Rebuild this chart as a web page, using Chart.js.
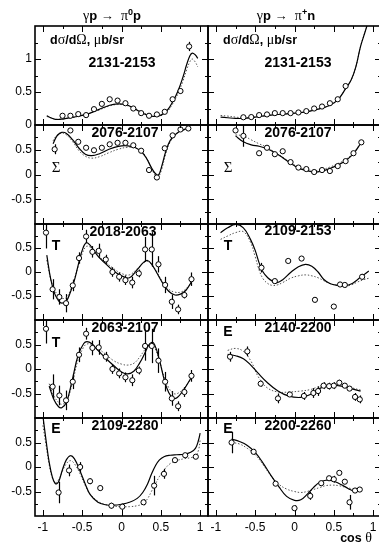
<!DOCTYPE html>
<html>
<head>
<meta charset="utf-8">
<script src="https://cdn.jsdelivr.net/npm/chart.js@4/dist/chart.umd.min.js"></script>
<style>
  html, body { margin: 0; padding: 0; background: #fff; overflow: hidden; width: 379px; height: 546px; }
  #stage { position: relative; width: 379px; height: 546px; overflow: hidden; }
  #stage canvas { position: absolute; left: 0; top: 0; }
  .lb { position: absolute; transform: translate(-50%, -50%); white-space: nowrap; line-height: 1;
        font-family: "Liberation Sans", Arial, Helvetica, sans-serif; color: #000; z-index: 5; }
  .lt { transform: translate(0, -50%); }
  .b { font-weight: bold; }
  .g { font-family: "Liberation Serif", "DejaVu Serif", "Times New Roman", serif; font-weight: normal; }
  .num { font-weight: bold; font-size: 14px; }
  .obs { font-weight: bold; font-size: 14px; }
  sup { font-size: 9px; vertical-align: 0; position: relative; top: -5px; }
</style>
</head>
<body>
<div id="stage"></div>
<script>
// ---- γp → π0p, dσ/dΩ (2131-2153) ----
const aPtX = [-0.75,-0.65,-0.55,-0.45,-0.35,-0.25,-0.15,-0.05,0.05,0.15,0.25,0.35,0.45,0.55,0.65,0.75,0.86];
const aPtY = [0.14,0.14,0.165,0.15,0.24,0.32,0.39,0.37,0.33,0.25,0.18,0.14,0.16,0.2,0.39,0.515,1.19];
const aPtE = [0.02,0.02,0.02,0.02,0.02,0.02,0.02,0.02,0.02,0.02,0.02,0.02,0.02,0.02,0.03,0.04,0.07];
const aFitX = [-0.95,-0.9,-0.84,-0.75,-0.6,-0.45,-0.3,-0.15,-0.05,0.05,0.15,0.25,0.35,0.42,0.5,0.58,0.65,0.72,0.78,0.83,0.87,0.9,0.94,0.97];
const aSolY = [0.14,0.11,0.085,0.09,0.12,0.16,0.23,0.3,0.32,0.31,0.26,0.19,0.14,0.13,0.15,0.22,0.35,0.52,0.72,0.92,1.05,1.09,1.06,1.01];
const aDotY = [0.13,0.11,0.09,0.09,0.12,0.16,0.22,0.29,0.31,0.3,0.26,0.2,0.15,0.13,0.14,0.2,0.32,0.48,0.66,0.84,0.96,1.0,0.95,0.88];

// ---- γp → π+n, dσ/dΩ (2131-2153) ----
const bPtX = [-0.65,-0.55,-0.45,-0.35,-0.25,-0.15,-0.05,0.05,0.15,0.25,0.35,0.45,0.55,0.65];
const bPtY = [0.117,0.12,0.15,0.16,0.18,0.18,0.18,0.19,0.21,0.25,0.28,0.33,0.39,0.59];
const bPtE = [0.015,0.015,0.015,0.015,0.015,0.015,0.015,0.015,0.015,0.015,0.015,0.015,0.015,0.02];
const bFitX = [-0.94,-0.85,-0.75,-0.65,-0.5,-0.3,-0.1,0.1,0.3,0.45,0.55,0.65,0.72,0.78,0.84,0.9,0.96];
const bSolY = [0.12,0.11,0.1,0.1,0.12,0.15,0.17,0.19,0.24,0.3,0.38,0.55,0.68,0.88,1.19,1.42,1.65];
const bDotY = [0.145,0.135,0.12,0.11,0.12,0.15,0.17,0.19,0.24,0.3,0.38,0.55,0.68,0.88,1.19,1.42,1.65];

// ---- π0p, Σ (2076-2107) ----
const cPtX = [-0.85,-0.65,-0.55,-0.45,-0.35,-0.25,-0.15,-0.05,0.05,0.15,0.25,0.35,0.45,0.55,0.65,0.75,0.85];
const cPtY = [0.51,0.89,0.66,0.54,0.49,0.54,0.61,0.64,0.64,0.59,0.48,0.09,-0.06,0.53,0.79,0.91,0.93];
const cPtE = [0.1,0.03,0.03,0.03,0.03,0.03,0.03,0.03,0.03,0.03,0.03,0.04,0.04,0.03,0.03,0.03,0.03];
const cFitX = [-0.87,-0.82,-0.76,-0.7,-0.62,-0.54,-0.46,-0.38,-0.28,-0.16,-0.04,0.08,0.18,0.26,0.32,0.38,0.43,0.47,0.51,0.56,0.62,0.7,0.78,0.85];
const cSolY = [0.62,0.78,0.85,0.83,0.7,0.53,0.41,0.38,0.42,0.51,0.57,0.58,0.54,0.45,0.32,0.14,0.02,-0.01,0.16,0.45,0.69,0.83,0.9,0.93];
const cDotY = [0.68,0.8,0.84,0.8,0.66,0.48,0.37,0.33,0.36,0.44,0.51,0.55,0.53,0.46,0.33,0.13,-0.02,-0.04,0.1,0.4,0.66,0.82,0.89,0.92];

// ---- π+n, Σ (2076-2107) ----
const dPtX = [-0.75,-0.65,-0.45,-0.35,-0.25,-0.15,-0.05,0.05,0.15,0.25,0.35,0.45,0.55,0.65,0.75,0.85];
const dPtY = [0.89,0.78,0.43,0.54,0.41,0.47,0.25,0.14,0.11,0.05,0.09,0.07,0.17,0.27,0.43,0.65];
const dPtE = [0.05,0.22,0.03,0.03,0.03,0.03,0.03,0.03,0.03,0.03,0.03,0.03,0.03,0.03,0.03,0.03];
const dFitX = [-0.75,-0.65,-0.55,-0.45,-0.35,-0.25,-0.15,-0.05,0.05,0.15,0.25,0.35,0.45,0.55,0.65,0.75,0.85];
const dSolY = [0.78,0.66,0.6,0.57,0.52,0.44,0.34,0.23,0.13,0.08,0.05,0.07,0.12,0.19,0.28,0.42,0.65];
const dDotY = [0.8,0.78,0.7,0.62,0.55,0.45,0.35,0.24,0.15,0.1,0.08,0.1,0.15,0.22,0.3,0.44,0.65];

// ---- π0p, T (2018-2063) ----
const ePtX = [-0.96,-0.876,-0.79,-0.705,-0.62,-0.54,-0.45,-0.37,-0.29,-0.2,-0.115,-0.03,0.05,0.137,0.22,0.3,0.385,0.47,0.555,0.64,0.72,0.8,0.89];
const ePtY = [0.82,-0.36,-0.52,-0.65,-0.28,0.29,0.74,0.42,0.44,0.26,0.0,-0.1,-0.17,-0.22,-0.03,0.47,0.47,0.16,-0.27,-0.62,-0.78,-0.48,-0.15];
const ePtE = [0.33,0.21,0.16,0.19,0.12,0.12,0.14,0.12,0.15,0.1,0.1,0.1,0.1,0.12,0.08,0.26,0.36,0.17,0.17,0.15,0.1,0.07,0.14];
const eFitX = [-0.95,-0.9,-0.85,-0.8,-0.76,-0.7,-0.65,-0.6,-0.55,-0.5,-0.45,-0.4,-0.3,-0.2,-0.1,0.0,0.1,0.2,0.28,0.33,0.38,0.45,0.52,0.6,0.68,0.75,0.82,0.9];
const eSolY = [0.35,-0.15,-0.45,-0.6,-0.65,-0.6,-0.42,-0.18,0.15,0.45,0.61,0.56,0.33,0.17,0.02,-0.08,-0.12,0.05,0.2,0.24,0.17,-0.02,-0.22,-0.4,-0.48,-0.46,-0.38,-0.18];
const eDotY = [0.25,-0.15,-0.38,-0.5,-0.55,-0.53,-0.38,-0.15,0.12,0.38,0.53,0.52,0.35,0.2,0.07,-0.03,-0.06,0.07,0.19,0.22,0.16,0.0,-0.2,-0.36,-0.42,-0.42,-0.35,-0.18];

// ---- π+n, T (2109-2153) ----
const fPtX = [-0.42,-0.25,-0.08,0.09,0.26,0.5,0.58,0.64,0.86];
const fPtY = [0.09,-0.19,0.23,0.28,-0.58,-0.72,-0.26,-0.27,-0.1];
const fPtE = [0.1,0.05,0.04,0.04,0.05,0.05,0.05,0.05,0.06];
const fFitX = [-0.94,-0.85,-0.75,-0.65,-0.56,-0.5,-0.45,-0.4,-0.34,-0.28,-0.22,-0.15,-0.05,0.05,0.14,0.22,0.3,0.37,0.45,0.55,0.63,0.72,0.8,0.88,0.945];
const fSolY = [0.82,0.92,0.99,0.92,0.68,0.45,0.19,0.0,-0.12,-0.19,-0.22,-0.16,-0.01,0.11,0.16,0.12,0.0,-0.15,-0.24,-0.28,-0.29,-0.25,-0.16,-0.06,0.02];
const fDotY = [0.68,0.75,0.82,0.84,0.62,0.32,0.04,-0.14,-0.24,-0.28,-0.27,-0.22,-0.13,-0.08,-0.06,-0.08,-0.12,-0.18,-0.24,-0.28,-0.3,-0.27,-0.21,-0.16,-0.13];

// ---- π0p, T (2063-2107) ----
const gPtX = [-0.96,-0.876,-0.79,-0.705,-0.62,-0.54,-0.45,-0.37,-0.29,-0.2,-0.115,-0.03,0.05,0.137,0.22,0.3,0.385,0.47,0.555,0.64,0.72,0.8,0.89];
const gPtY = [0.82,-0.36,-0.54,-0.64,-0.26,0.29,0.72,0.43,0.44,0.25,0.0,-0.09,-0.17,-0.23,-0.03,0.47,0.47,0.17,-0.26,-0.6,-0.76,-0.47,-0.14];
const gPtE = [0.3,0.25,0.2,0.2,0.15,0.15,0.12,0.15,0.15,0.1,0.1,0.1,0.1,0.12,0.08,0.3,0.35,0.25,0.2,0.15,0.1,0.1,0.12];
const gFitX = [-0.92,-0.86,-0.8,-0.76,-0.7,-0.63,-0.55,-0.48,-0.44,-0.38,-0.3,-0.2,-0.1,0.0,0.08,0.16,0.23,0.29,0.34,0.38,0.42,0.48,0.54,0.6,0.66,0.71,0.78,0.84,0.9];
const gSolY = [-0.35,-0.62,-0.77,-0.79,-0.68,-0.25,0.29,0.52,0.56,0.52,0.38,0.22,0.07,-0.06,-0.1,-0.04,0.12,0.3,0.47,0.54,0.5,0.2,-0.2,-0.48,-0.6,-0.58,-0.45,-0.3,-0.14];
const gDotY = [-0.3,-0.55,-0.68,-0.72,-0.66,-0.32,0.2,0.45,0.51,0.5,0.42,0.3,0.17,0.1,0.08,0.12,0.24,0.38,0.48,0.5,0.44,0.18,-0.15,-0.38,-0.5,-0.5,-0.42,-0.3,-0.16];

// ---- π+n, E (2140-2200) ----
const hPtX = [-0.82,-0.6,-0.43,-0.21,-0.06,0.12,0.24,0.3,0.37,0.44,0.5,0.57,0.64,0.7,0.77,0.83];
const hPtY = [0.25,0.36,-0.3,-0.6,-0.52,-0.55,-0.49,-0.45,-0.34,-0.35,-0.34,-0.28,-0.34,-0.4,-0.57,-0.62];
const hPtE = [0.1,0.1,0.06,0.1,0.04,0.08,0.1,0.1,0.07,0.07,0.07,0.06,0.05,0.04,0.08,0.08];
const hFitX = [-0.85,-0.75,-0.65,-0.55,-0.46,-0.35,-0.21,-0.08,0.08,0.2,0.29,0.37,0.44,0.52,0.62,0.72,0.84];
const hSolY = [0.3,0.27,0.21,0.07,-0.09,-0.27,-0.45,-0.55,-0.58,-0.52,-0.43,-0.36,-0.33,-0.33,-0.36,-0.4,-0.45];
const hDotY = [0.38,0.42,0.36,0.15,-0.16,-0.38,-0.47,-0.47,-0.45,-0.42,-0.37,-0.33,-0.32,-0.32,-0.34,-0.38,-0.43];

// ---- π0p, E (2109-2280) ----
const iPtX = [-0.8,-0.667,-0.526,-0.4,-0.27,-0.128,0.01,0.28,0.415,0.54,0.68,0.81,0.945];
const iPtY = [-0.52,-0.07,0.0,-0.29,-0.43,-0.79,-0.81,-0.72,-0.38,-0.14,0.14,0.24,0.21];
const iPtE = [0.22,0.12,0.1,0.06,0.05,0.06,0.06,0.06,0.2,0.1,0.05,0.03,0.04];
const iFitX = [-1.0,-0.96,-0.92,-0.88,-0.84,-0.8,-0.75,-0.7,-0.65,-0.6,-0.53,-0.46,-0.4,-0.3,-0.2,-0.1,0.0,0.1,0.2,0.27,0.33,0.38,0.43,0.48,0.54,0.62,0.7,0.8,0.88,0.94,0.98,1.0];
const iSolY = [1.05,0.55,0.1,-0.2,-0.34,-0.3,-0.05,0.15,0.23,0.17,-0.07,-0.35,-0.56,-0.72,-0.77,-0.78,-0.76,-0.72,-0.64,-0.52,-0.35,-0.15,0.02,0.14,0.21,0.24,0.25,0.26,0.3,0.38,0.55,0.69];
const iDotY = [0.85,0.45,0.05,-0.22,-0.32,-0.26,-0.08,0.07,0.13,0.07,-0.13,-0.38,-0.55,-0.7,-0.77,-0.8,-0.81,-0.81,-0.79,-0.75,-0.65,-0.5,-0.35,-0.2,-0.06,0.07,0.13,0.17,0.19,0.22,0.35,0.55];

// ---- π+n, E (2200-2260) ----
const jPtX = [-0.8,-0.52,-0.24,0.0,0.2,0.34,0.44,0.5,0.57,0.64,0.7,0.77,0.83];
const jPtY = [0.5,0.31,-0.34,-0.84,-0.59,-0.33,-0.23,-0.25,-0.12,-0.3,-0.72,-0.48,-0.46];
const jPtE = [0.22,0.06,0.04,0.06,0.08,0.04,0.04,0.07,0.04,0.04,0.15,0.05,0.04];
const jFitX = [-0.8,-0.7,-0.6,-0.5,-0.4,-0.3,-0.2,-0.1,0.0,0.08,0.16,0.24,0.32,0.4,0.48,0.56,0.64,0.72,0.78,0.83];
const jSolY = [0.57,0.52,0.44,0.3,0.08,-0.17,-0.4,-0.6,-0.68,-0.67,-0.56,-0.42,-0.31,-0.27,-0.28,-0.33,-0.4,-0.47,-0.5,-0.46];
const jDotY = [0.5,0.47,0.38,0.25,0.05,-0.18,-0.35,-0.45,-0.5,-0.52,-0.5,-0.46,-0.42,-0.38,-0.37,-0.38,-0.41,-0.44,-0.46,-0.45];

// axis tick labels
const xTickLabels = [-1, -0.5, 0, 0.5, 1];
const yTickLabelsDsg = [0, 0.5, 1];
const yTickLabelsPol = [-0.5, 0, 0.5];

// ---------------- layout ----------------
const CW = 392, CH = 546;
const XLAB_H = 22;
const FONT = '"Liberation Sans", Arial, Helvetica, sans-serif';
const COL_L = { l: 35, r: 208 };
const COL_R = { l: 208, r: 381 };
const ROWS = [[26, 125], [125, 224], [224, 320], [320, 418], [418, 516]];

const pts = (xs, ys) => xs.map((x, i) => ({ x, y: ys[i] }));

// frame with inward ticks on all four sides + vertical error bars
const frameTicks = {
  id: 'frameTicks',
  beforeDatasetsDraw(chart) {
    const { ctx, chartArea: a, scales: { x, y } } = chart;
    const ds = chart.data.datasets[0];
    if (!ds.errors) return;
    ctx.save();
    ctx.beginPath(); ctx.rect(a.left, a.top, a.width, a.height); ctx.clip();
    ctx.strokeStyle = '#000'; ctx.lineWidth = 1.2;
    ds.data.forEach((p, i) => {
      const e = ds.errors[i];
      const px = Math.round(x.getPixelForValue(p.x)) + 0.5;
      ctx.beginPath();
      ctx.moveTo(px, y.getPixelForValue(p.y + e));
      ctx.lineTo(px, y.getPixelForValue(p.y - e));
      ctx.stroke();
    });
    ctx.restore();
  },
  afterDraw(chart) {
    const { ctx, chartArea: a, scales: { x, y } } = chart;
    ctx.save();
    ctx.strokeStyle = '#000'; ctx.lineWidth = 1;
    const seg = (x1, y1, x2, y2) => { ctx.beginPath(); ctx.moveTo(x1, y1); ctx.lineTo(x2, y2); ctx.stroke(); };
    for (let k = -4; k <= 4; k++) {
      const v = k * 0.25;
      const px = Math.round(x.getPixelForValue(v)) + 0.5;
      const len = (k % 2 === 0) ? 6 : 3;
      seg(px, a.bottom, px, a.bottom - len);
      seg(px, a.top, px, a.top + len);
    }
    const n0 = Math.round(y.min / 0.25) + 1, n1 = Math.round(y.max / 0.25) - 1;
    for (let k = n0; k <= n1; k++) {
      const v = k * 0.25;
      const py = Math.round(y.getPixelForValue(v)) + 0.5;
      const len = (k % 2 === 0) ? 6 : 3;
      seg(a.left, py, a.left + len, py);
      seg(a.right, py, a.right - len, py);
    }
    ctx.lineWidth = 1.6;
    ctx.strokeRect(a.left, a.top, a.right - a.left, a.bottom - a.top);
    ctx.restore();
  }
};

function panel(col, row, yMin, yMax, yLabels, showX, pX, pY, pE, fX, sY, dY) {
  const cv = document.createElement('canvas');
  cv.width = CW; cv.height = CH;
  cv.style.width = CW + 'px'; cv.style.height = CH + 'px';
  document.getElementById('stage').appendChild(cv);
  const top = ROWS[row][0], bottom = ROWS[row][1];
  const xh = showX ? XLAB_H : 0;
  const datasets = [
    { data: pts(pX, pY), errors: pE, showLine: false, pointRadius: 2.6, pointBorderWidth: 1,
      pointBorderColor: '#000', pointBackgroundColor: '#fff', pointStyle: 'circle' },
    { data: pts(fX, sY), showLine: true, borderColor: '#000', borderWidth: 1.2, pointRadius: 0,
      tension: 0.4, fill: false },
    { data: pts(fX, dY), showLine: true, borderColor: '#555', borderWidth: 1, borderDash: [1.5, 1.8],
      pointRadius: 0, tension: 0.4, fill: false }
  ];
  new Chart(cv, {
    type: 'scatter',
    data: { datasets },
    plugins: [frameTicks],
    options: {
      responsive: false, animation: false, devicePixelRatio: 1, events: [],
      layout: { padding: { left: 0, top: top, right: CW - col.r, bottom: CH - bottom - xh } },
      plugins: { legend: { display: false }, tooltip: { enabled: false } },
      scales: {
        x: {
          type: 'linear', position: 'bottom', min: -1.1, max: 1.1,
          grid: { display: false, drawTicks: false }, border: { display: false },
          afterBuildTicks: s => { s.ticks = xTickLabels.map(v => ({ value: v })); },
          afterFit: s => { s.height = xh; },
          ticks: { display: showX, autoSkip: false, maxRotation: 0, minRotation: 0, padding: 4, color: '#000',
                   font: { family: FONT, size: 12 }, callback: v => String(v) }
        },
        y: {
          type: 'linear', position: 'left', min: yMin, max: yMax,
          grid: { display: false, drawTicks: false }, border: { display: false },
          afterBuildTicks: s => { s.ticks = yLabels.map(v => ({ value: v })); },
          afterFit: s => { s.width = col.l; },
          ticks: { display: yLabels.length > 0, autoSkip: false, padding: 3, color: '#000',
                   font: { family: FONT, size: 12 }, callback: v => String(v) }
        }
      }
    }
  });
}

panel(COL_L, 0, 0, 1.5, yTickLabelsDsg, false, aPtX, aPtY, aPtE, aFitX, aSolY, aDotY);
panel(COL_R, 0, 0, 1.5, [], false, bPtX, bPtY, bPtE, bFitX, bSolY, bDotY);
panel(COL_L, 1, -1, 1, yTickLabelsPol, false, cPtX, cPtY, cPtE, cFitX, cSolY, cDotY);
panel(COL_R, 1, -1, 1, [], false, dPtX, dPtY, dPtE, dFitX, dSolY, dDotY);
panel(COL_L, 2, -1, 1, yTickLabelsPol, false, ePtX, ePtY, ePtE, eFitX, eSolY, eDotY);
panel(COL_R, 2, -1, 1, [], false, fPtX, fPtY, fPtE, fFitX, fSolY, fDotY);
panel(COL_L, 3, -1, 1, yTickLabelsPol, false, gPtX, gPtY, gPtE, gFitX, gSolY, gDotY);
panel(COL_R, 3, -1, 1, [], false, hPtX, hPtY, hPtE, hFitX, hSolY, hDotY);
panel(COL_L, 4, -1, 1, yTickLabelsPol, true, iPtX, iPtY, iPtE, iFitX, iSolY, iDotY);
panel(COL_R, 4, -1, 1, [], true, jPtX, jPtY, jPtE, jFitX, jSolY, jDotY);

// ---------------- text ----------------
function label(html, x, y, cls, style) {
  const d = document.createElement('div');
  d.className = 'lb ' + (cls || '');
  d.style.left = x + 'px'; d.style.top = y + 'px';
  if (style) d.style.cssText += style;
  d.innerHTML = html;
  document.getElementById('stage').appendChild(d);
}
const hdrStyle = 'font-size:13px;';
label('<span class="g" style="font-size:14px">γ</span><b>p &#8594;</b>&nbsp; <span class="g" style="font-size:14px">π</span><sup class="b">0</sup><b>p</b>', 112, 16, '', hdrStyle);
label('<span class="g" style="font-size:14px">γ</span><b>p &#8594;</b>&nbsp; <span class="g" style="font-size:14px">π</span><sup class="b">+</sup><b>n</b>', 286, 16, '', hdrStyle);

const dsgHtml = '<b>d</b><span class="g" style="font-size:14px">σ</span><b>/d</b><span class="g" style="font-size:14px">Ω</span><b>, </b><span class="g" style="font-size:14px">μ</span><b>b/sr</b>';
label(dsgHtml, 50, 40, 'lt', 'font-size:12.5px;');
label(dsgHtml, 223, 40, 'lt', 'font-size:12.5px;');

label('2131-2153', 122, 62, 'num');
label('2131-2153', 298, 62, 'num');
label('2076-2107', 125, 132, 'num');
label('2076-2107', 298, 132, 'num');
label('2018-2063', 123, 231, 'num');
label('2109-2153', 298, 230, 'num');
label('2063-2107', 125, 327, 'num');
label('2140-2200', 298, 327, 'num');
label('2109-2280', 125, 425, 'num');
label('2200-2260', 298, 425, 'num');

label('Σ', 56, 167, 'g', 'font-size:15px;');
label('Σ', 228, 167, 'g', 'font-size:15px;');
label('T', 56, 245, 'obs');
label('T', 228, 245, 'obs');
label('T', 56, 342, 'obs');
label('E', 228, 331, 'obs');
label('E', 56, 428, 'obs');
label('E', 228, 428, 'obs');

label('<b>cos</b> <span class="g" style="font-size:14px">θ</span>', 356, 538, '', 'font-size:12.5px;');
</script>
</body>
</html>
